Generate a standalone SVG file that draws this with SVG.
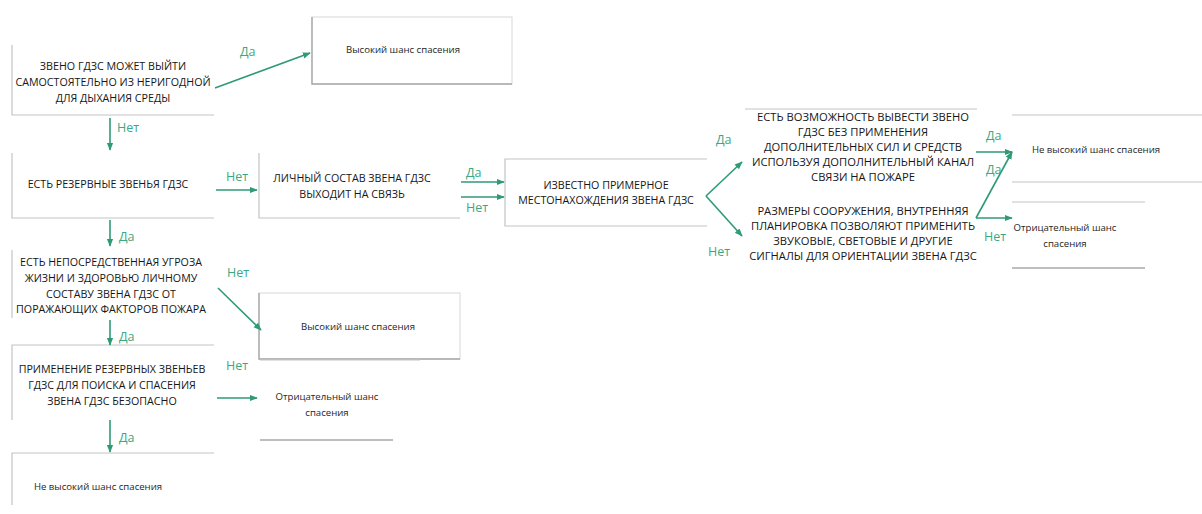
<svg xmlns="http://www.w3.org/2000/svg" width="1202" height="514" viewBox="0 0 1202 514">
  <style>
    .t { font-family: "Open Sans", "Noto Sans", "Liberation Sans", sans-serif; font-size: 10.7px; fill: #161616; text-anchor: middle; }
    .t2 { font-family: "Open Sans", "Noto Sans", "Liberation Sans", sans-serif; font-size: 11.2px; fill: #161616; text-anchor: middle; }
    .s { font-family: "Open Sans", "Noto Sans", "Liberation Sans", sans-serif; font-size: 9.6px; fill: #262626; text-anchor: middle; }
    .lbl { font-family: "Open Sans", "Noto Sans", "Liberation Sans", sans-serif; font-size: 12.5px; fill: #3aa882; }
    .edge { fill: none; stroke: #c4c4c4; stroke-width: 1.2; }
    .edge-d { fill: none; stroke: #a8a8a8; stroke-width: 1.4; }
    .box { fill: #ffffff; stroke: #d8d8d8; stroke-width: 1; }
    .arr { fill: none; stroke: #2e9a78; stroke-width: 1.6; marker-end: url(#ah); }
  </style>
  <defs>
    <marker id="ah" viewBox="0 0 10 10" refX="9" refY="5" markerWidth="5" markerHeight="5" orient="auto">
      <path d="M0,1 L10,5 L0,9 z" fill="#2e9a78"/>
    </marker>
  </defs>
  <rect width="1202" height="514" fill="#ffffff"/>

  <!-- left column -->
  <g id="n-exit-self">
    <path class="edge" d="M12,45 V115 H214"/>
    <text class="t" x="113" y="70">ЗВЕНО ГДЗС МОЖЕТ ВЫЙТИ</text>
    <text class="t" x="113" y="86">САМОСТОЯТЕЛЬНО ИЗ НЕРИГОДНОЙ</text>
    <text class="t" x="113" y="102">ДЛЯ ДЫХАНИЯ СРЕДЫ</text>
  </g>
  <g id="n-high-1">
    <rect class="box" x="312" y="17" width="200" height="67"/>
    <path class="edge-d" d="M312,17 V84 H512"/>
    <text class="s" x="403" y="53">Высокий шанс спасения</text>
  </g>
  <g id="n-reserve">
    <path class="edge" d="M12,153 V218 H214"/>
    <text class="t" x="108" y="188">ЕСТЬ РЕЗЕРВНЫЕ ЗВЕНЬЯ ГДЗС</text>
  </g>
  <g id="n-contact">
    <path class="edge" d="M259,153 V218 H460"/>
    <text class="t" x="352" y="182">ЛИЧНЫЙ СОСТАВ ЗВЕНА ГДЗС</text>
    <text class="t" x="352" y="198">ВЫХОДИТ НА СВЯЗЬ</text>
  </g>
  <g id="n-location">
    <path class="edge" d="M707,159 H505 V226 H707"/>
    <text class="t" x="606" y="189">ИЗВЕСТНО ПРИМЕРНОЕ</text>
    <text class="t" x="606" y="204">МЕСТОНАХОЖДЕНИЯ ЗВЕНА ГДЗС</text>
  </g>
  <g id="n-threat">
    <path class="edge" d="M12,250 V318"/>
    <text class="t" x="111" y="266">ЕСТЬ НЕПОСРЕДСТВЕННАЯ УГРОЗА</text>
    <text class="t" x="111" y="282">ЖИЗНИ И ЗДОРОВЬЮ ЛИЧНОМУ</text>
    <text class="t" x="111" y="298">СОСТАВУ ЗВЕНА ГДЗС ОТ</text>
    <text class="t" x="111" y="313">ПОРАЖАЮЩИХ ФАКТОРОВ ПОЖАРА</text>
  </g>
  <g id="n-high-2">
    <rect class="box" x="259" y="293" width="201" height="66"/>
    <path class="edge-d" d="M259,293 V359 H460"/>
    <text class="s" x="358" y="330">Высокий шанс спасения</text>
  </g>
  <g id="n-apply-reserve">
    <path class="edge" d="M214,345 H12 V420"/>
    <text class="t" x="112" y="373">ПРИМЕНЕНИЕ РЕЗЕРВНЫХ ЗВЕНЬЕВ</text>
    <text class="t" x="112" y="389">ГДЗС ДЛЯ ПОИСКА И СПАСЕНИЯ</text>
    <text class="t" x="112" y="405">ЗВЕНА ГДЗС БЕЗОПАСНО</text>
  </g>
  <g id="n-negative-1">
    <path class="edge" d="M260,360 H420"/>
    <path class="edge-d" d="M260,440 H393"/>
    <text class="s" x="327" y="400">Отрицательный шанс</text>
    <text class="s" x="327" y="416">спасения</text>
  </g>
  <g id="n-low-1">
    <path class="edge" d="M214,453 H12 V505"/>
    <text class="s" x="98" y="490">Не высокий шанс спасения</text>
  </g>

  <!-- right part -->
  <g id="n-lead-out">
    <path class="edge" d="M745,109 H977"/>
    <text class="t2" x="863" y="121">ЕСТЬ ВОЗМОЖНОСТЬ ВЫВЕСТИ ЗВЕНО</text>
    <text class="t2" x="863" y="136">ГДЗС БЕЗ ПРИМЕНЕНИЯ</text>
    <text class="t2" x="863" y="151">ДОПОЛНИТЕЛЬНЫХ СИЛ И СРЕДСТВ</text>
    <text class="t2" x="863" y="166">ИСПОЛЬЗУЯ ДОПОЛНИТЕЛЬНЫЙ КАНАЛ</text>
    <text class="t2" x="863" y="181">СВЯЗИ НА ПОЖАРЕ</text>
  </g>
  <g id="n-signals">
    <text class="t2" x="863" y="215">РАЗМЕРЫ СООРУЖЕНИЯ, ВНУТРЕННЯЯ</text>
    <text class="t2" x="863" y="230">ПЛАНИРОВКА ПОЗВОЛЯЮТ ПРИМЕНИТЬ</text>
    <text class="t2" x="863" y="245">ЗВУКОВЫЕ, СВЕТОВЫЕ И ДРУГИЕ</text>
    <text class="t2" x="863" y="260">СИГНАЛЫ ДЛЯ ОРИЕНТАЦИИ ЗВЕНА ГДЗС</text>
  </g>
  <g id="n-low-2">
    <path class="edge" d="M1012,115 H1202"/>
    <path class="edge" d="M1012,182 H1202"/>
    <text class="s" x="1096" y="153">Не высокий шанс спасения</text>
  </g>
  <g id="n-negative-2">
    <path class="edge" d="M1012,202 H1145"/>
    <path class="edge-d" d="M1012,268 H1145"/>
    <text class="s" x="1065" y="231">Отрицательный шанс</text>
    <text class="s" x="1065" y="247">спасения</text>
  </g>

  <!-- connectors -->
  <g id="connectors">
    <path class="arr" d="M215,88 L310,53"/>
    <text class="lbl" x="240" y="56">Да</text>

    <path class="arr" d="M110,118 V150"/>
    <text class="lbl" x="117" y="132">Нет</text>

    <path class="arr" d="M216,190 H257"/>
    <text class="lbl" x="226" y="181">Нет</text>

    <path class="arr" d="M461,182 H504"/>
    <text class="lbl" x="466" y="177">Да</text>
    <path class="arr" d="M461,197 H504"/>
    <text class="lbl" x="466" y="212">Нет</text>

    <path class="arr" d="M110,220 V246"/>
    <text class="lbl" x="119" y="241">Да</text>

    <path class="arr" d="M218,288 L261,330"/>
    <text class="lbl" x="227" y="277">Нет</text>

    <path class="arr" d="M110,320 V345"/>
    <text class="lbl" x="119" y="341">Да</text>

    <path class="arr" d="M217,398 H257"/>
    <text class="lbl" x="226" y="370">Нет</text>

    <path class="arr" d="M110,420 V452"/>
    <text class="lbl" x="119" y="442">Да</text>

    <!-- split from location node -->
    <path class="arr" d="M706,196 L742,162"/>
    <path class="arr" d="M706,196 L742,236"/>
    <text class="lbl" x="716" y="144">Да</text>
    <text class="lbl" x="708" y="256">Нет</text>

    <!-- Z-shaped links to outcomes -->
    <path class="arr" d="M976,152 H1012"/>
    <path class="arr" d="M976,218 L1012,152"/>
    <path class="arr" d="M976,218 H1012"/>
    <text class="lbl" x="986" y="140">Да</text>
    <text class="lbl" x="986" y="174">Да</text>
    <text class="lbl" x="984" y="241">Нет</text>
  </g>
</svg>
